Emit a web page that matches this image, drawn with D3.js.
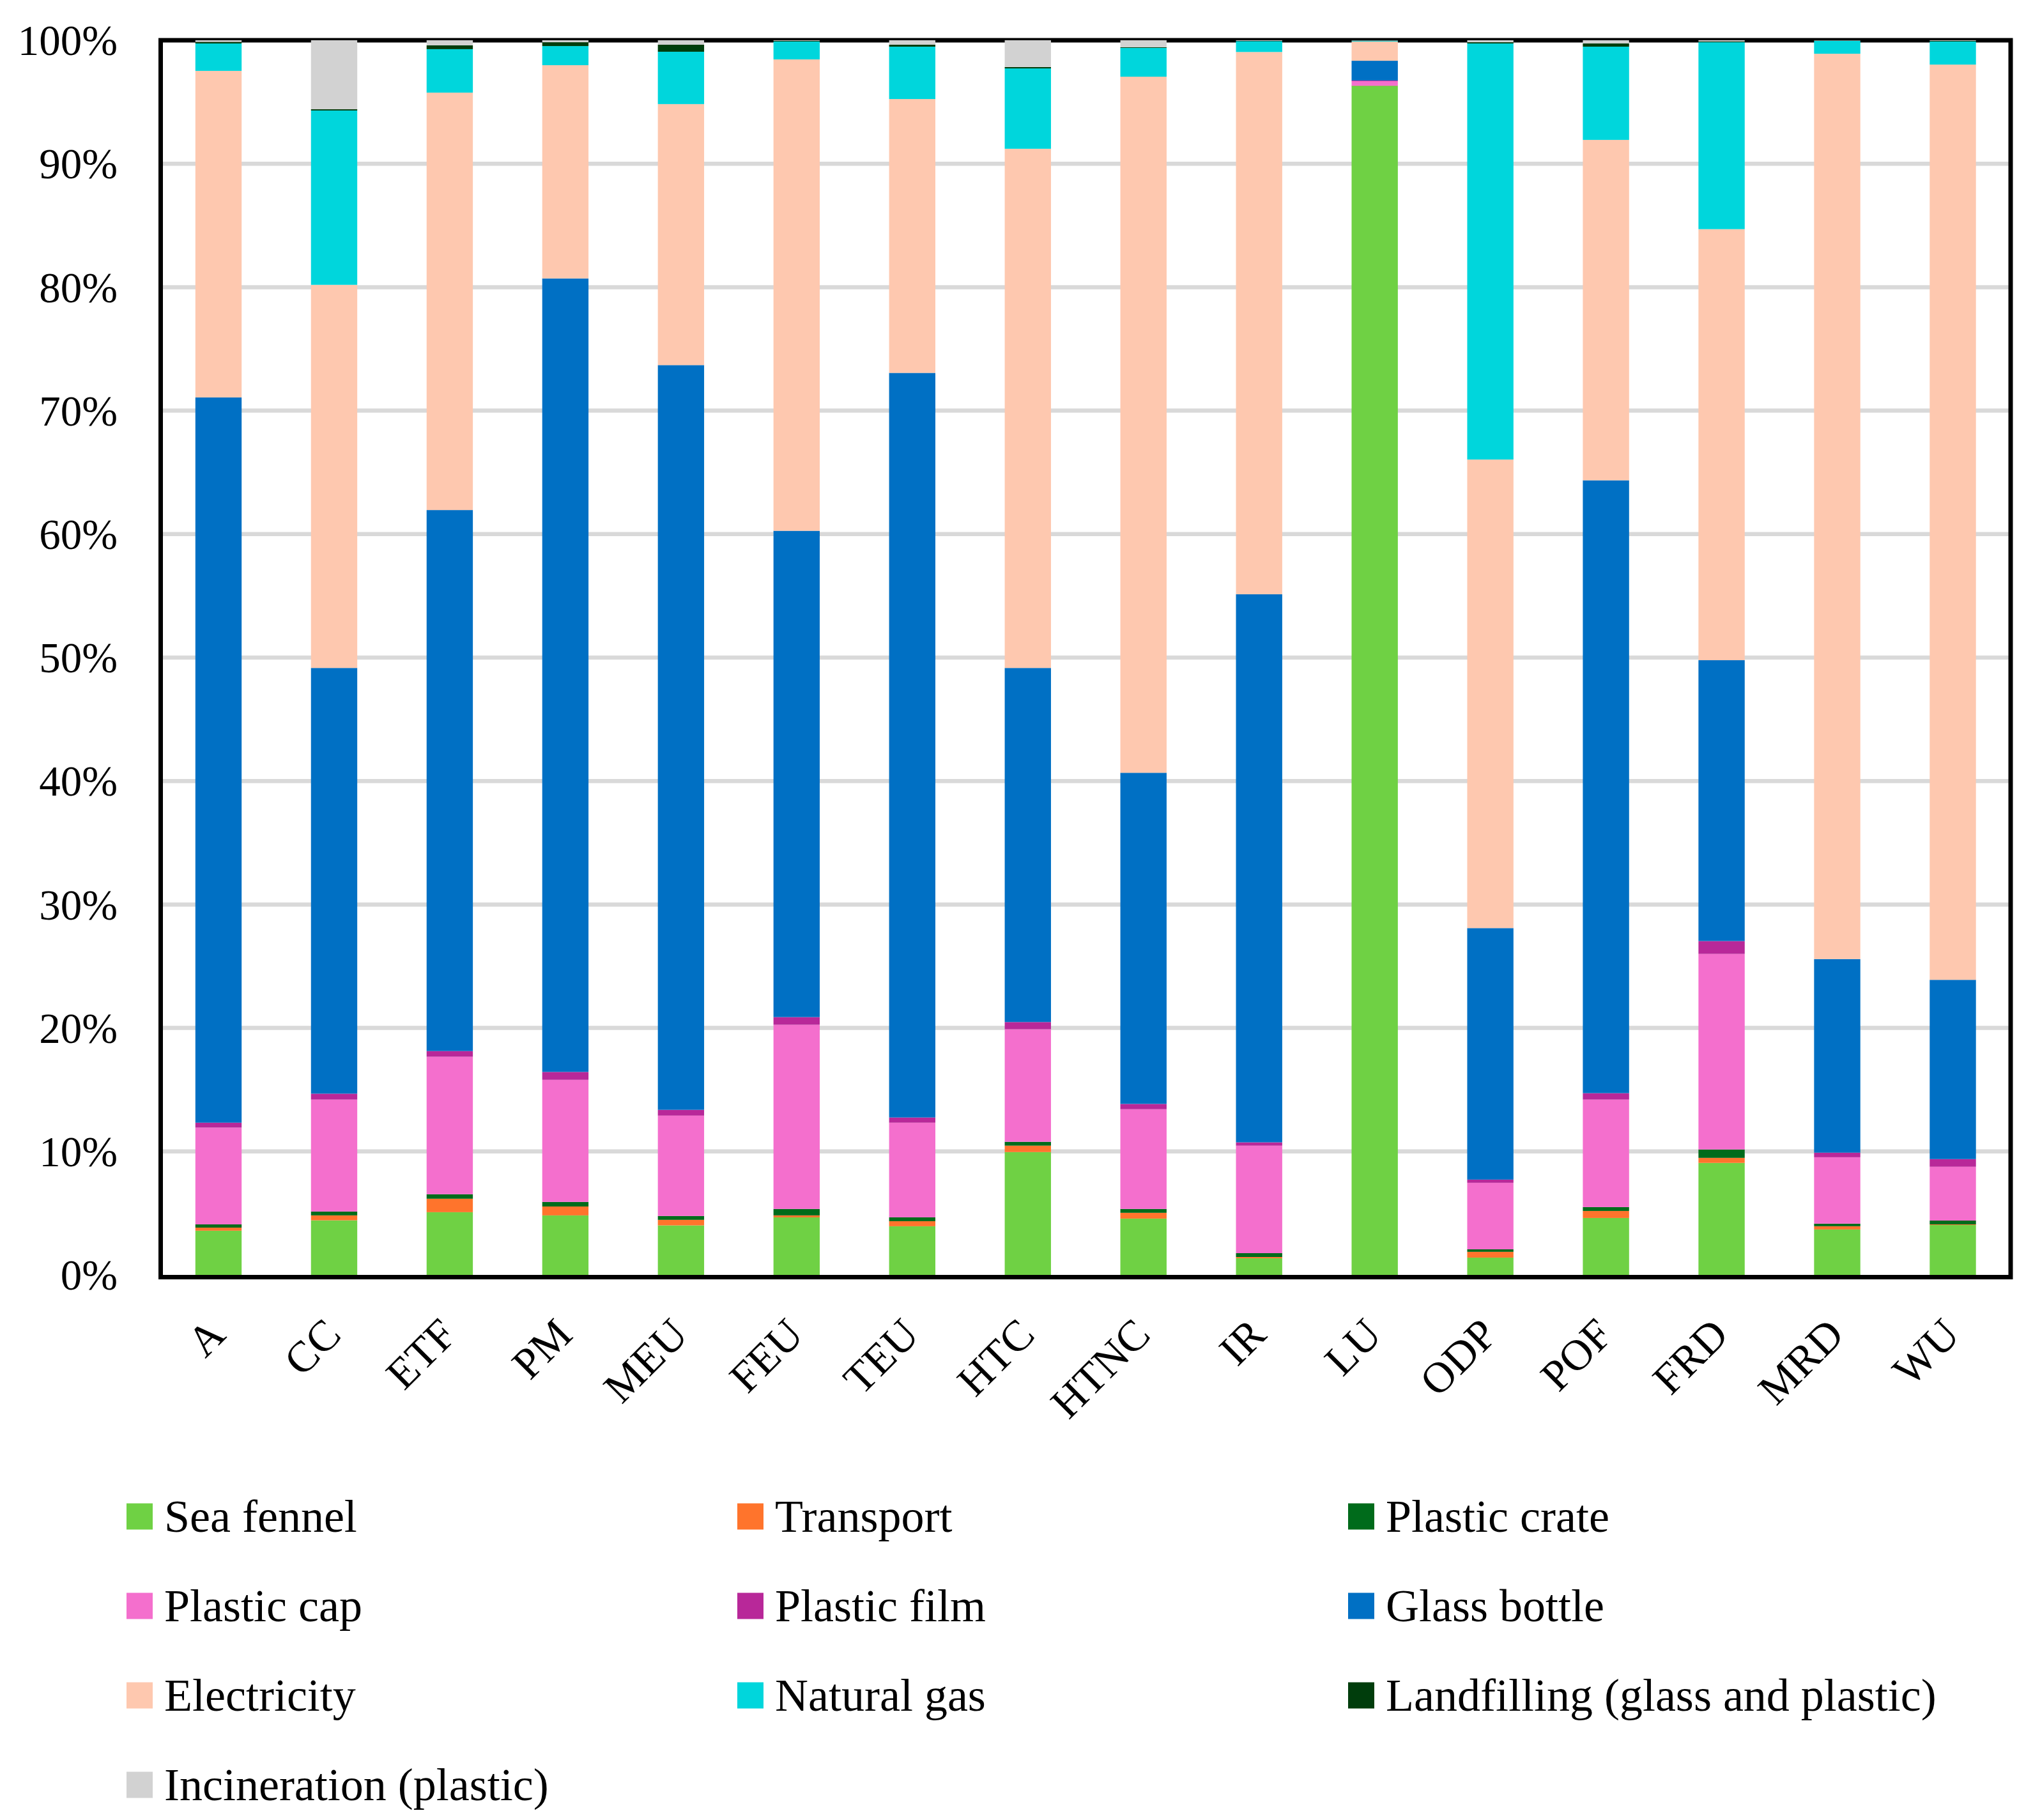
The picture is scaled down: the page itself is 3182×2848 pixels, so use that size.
<!DOCTYPE html>
<html>
<head>
<meta charset="utf-8">
<script src="https://cdn.jsdelivr.net/npm/d3@7"></script>
<style>
  html, body { margin: 0; padding: 0; background: #ffffff; }
  svg { display: block; }
  text { font-family: "Liberation Serif", "DejaVu Serif", serif; fill: #000; }
</style>
</head>
<body>
<svg id="chart" width="3182" height="2848"></svg>
<script>
// ---------------- DATA ----------------
const categories = ["A","CC","ETF","PM","MEU","FEU","TEU","HTC","HTNC","IR","LU","ODP","POF","FRD","MRD","WU"];

const seaFennel    = [3.58,4.42,5.08,4.82,4.01,4.66,3.94,9.95,4.56,1.35,96.29,1.40,4.61,9.07,3.68,4.04];
const transport    = [0.25,0.40,1.09,0.72,0.45,0.16,0.41,0.52,0.47,0.10,0.02,0.47,0.57,0.41,0.26,0.05];
const plasticCrate = [0.26,0.31,0.36,0.37,0.31,0.52,0.31,0.31,0.31,0.31,0.02,0.20,0.31,0.68,0.21,0.31];
const plasticCap   = [7.84,9.07,11.14,9.89,8.13,14.92,7.67,9.12,8.08,8.71,0.36,5.39,8.71,15.84,5.38,4.36];
const plasticFilm  = [0.40,0.48,0.46,0.64,0.47,0.62,0.42,0.58,0.43,0.27,0.05,0.26,0.52,1.04,0.37,0.62];
const glassBottle  = [58.74,34.48,43.82,64.27,60.32,39.39,60.31,28.68,26.82,44.40,1.60,20.37,49.64,22.75,15.68,14.52];
const electricity  = [26.45,31.03,33.81,17.27,21.14,38.18,22.18,42.05,56.38,43.93,1.56,37.95,27.57,34.91,73.33,74.13];
const naturalGas   = [2.22,14.12,3.52,1.55,4.24,1.45,4.24,6.51,2.33,0.88,0.05,33.70,7.55,15.14,1.04,1.87];
const landfilling  = [0.12,0.10,0.31,0.31,0.57,0.05,0.16,0.11,0.05,0.02,0.02,0.10,0.26,0.06,0.02,0.05];
const incineration = [0.14,5.59,0.41,0.16,0.36,0.05,0.36,2.17,0.57,0.05,0.03,0.16,0.26,0.10,0.03,0.05];

const seriesNames = ["Sea fennel","Transport","Plastic crate","Plastic cap","Plastic film","Glass bottle",
                     "Electricity","Natural gas","Landfilling (glass and plastic)","Incineration (plastic)"];
const seriesValues = [seaFennel, transport, plasticCrate, plasticCap, plasticFilm, glassBottle,
                      electricity, naturalGas, landfilling, incineration];
const seriesColors = ["#6FD144","#FF742C","#006B1B","#F46FCD","#B82899","#0070C4",
                      "#FEC8AF","#00D6DC","#003D0C","#D2D2D2"];
const yTicks = [0,0.1,0.2,0.3,0.4,0.5,0.6,0.7,0.8,0.9,1.0];

// ---------------- BUILD TABLE ----------------
const rows = categories.map((c, i) => {
  const r = { cat: c };
  seriesNames.forEach((s, k) => { r[s] = seriesValues[k][i]; });
  return r;
});
const stacked = d3.stack().keys(seriesNames).offset(d3.stackOffsetExpand)(rows);

// ---------------- LAYOUT ----------------
const svg = d3.select("#chart");
const plot = { left: 251.5, right: 3147, top: 63, bottom: 1995 };

const x = d3.scaleBand().domain(categories).range([plot.left, plot.right]).paddingInner(0.6).paddingOuter(0.3);
const y = d3.scaleLinear().domain([0, 1]).range([plot.bottom, plot.top]);

// white background
svg.append("rect").attr("width", 3182).attr("height", 2848).attr("fill", "#fff");

// gridlines
svg.append("g").selectAll("line").data(yTicks.filter(t => t > 0 && t < 1)).join("line")
  .attr("x1", plot.left).attr("x2", plot.right)
  .attr("y1", d => y(d)).attr("y2", d => y(d))
  .attr("stroke", "#D9D9D9").attr("stroke-width", 6.5);

// frame
svg.append("rect")
  .attr("x", plot.left).attr("y", plot.top)
  .attr("width", plot.right - plot.left).attr("height", plot.bottom + 3.5 - plot.top)
  .attr("fill", "none").attr("stroke", "#000").attr("stroke-width", 7);

// bars
svg.append("g").selectAll("g").data(stacked).join("g")
  .attr("fill", (d, i) => seriesColors[i])
  .selectAll("rect").data(d => d).join("rect")
  .attr("x", d => x(d.data.cat))
  .attr("width", x.bandwidth())
  .attr("y", d => y(d[1]))
  .attr("height", d => Math.max(0, y(d[0]) - y(d[1])));

// y axis labels
const yAxis = d3.axisLeft(y).tickValues(yTicks).tickFormat(d3.format(".0%")).tickSize(0).tickPadding(0);
const yg = svg.append("g").attr("transform", `translate(${184},0)`).call(yAxis);
yg.select(".domain").remove();
yg.selectAll("text").attr("font-size", 67).attr("dy", "0.34em");

// x axis labels
const xAxis = d3.axisBottom(x).tickSize(0).tickPadding(0);
const xg = svg.append("g").attr("transform", `translate(0,${2092})`).call(xAxis);
xg.select(".domain").remove();
xg.selectAll("text")
  .attr("font-size", 68)
  .attr("text-anchor", "end").attr("dy", 0).attr("y", 0)
  .attr("transform", "translate(14,0) rotate(-45)");

// legend
const legendX = [198, 1154, 2110];
const legendY0 = 2373, legendDY = 140;
const lg = svg.append("g").selectAll("g").data(seriesNames).join("g")
  .attr("transform", (d, i) => `translate(${legendX[i % 3]},${legendY0 + Math.floor(i / 3) * legendDY})`);
lg.append("rect").attr("x", 0).attr("y", -20.5).attr("width", 41).attr("height", 41)
  .attr("fill", (d, i) => seriesColors[i]);
lg.append("text").attr("x", 59).attr("dy", "0.34em").attr("font-size", 72).text(d => d);
</script>
</body>
</html>
